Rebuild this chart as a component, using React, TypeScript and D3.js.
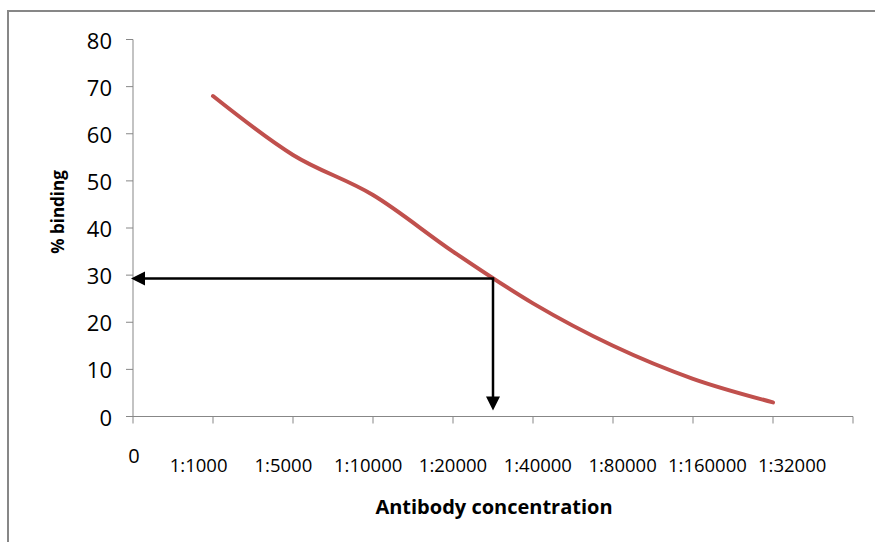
import React from "react";
import * as d3 from "d3";

const categories = ["1:1000", "1:5000", "1:10000", "1:20000", "1:40000", "1:80000", "1:160000", "1:32000"];
const binding = [68, 55.5, 47, 35, 24, 15, 8, 3];
const yTicks = [0, 10, 20, 30, 40, 50, 60, 70, 80];
const originLabel = "0";
const readoutValue = 29.3;
const readoutCategory = 4.5;
const yTitle = "% binding";
const xTitle = "Antibody concentration";

const W = 875;
const H = 542;

export default function App() {
  const x = d3.scaleLinear().domain([0, 9]).range([133, 853]);
  const y = d3.scaleLinear().domain([0, 80]).range([416.5, 39.5]);
  const labelX = d3.scalePoint<string>().domain(categories).range([x(0.82), x(8.24)]);

  const line = d3
    .line<number>()
    .x((_, i) => x(i + 1))
    .y((d) => y(d))
    .curve(d3.curveCatmullRom.alpha(0));

  const axisColor = "#878787";
  const font = "'Open Sans', 'Noto Sans', sans-serif";
  const xTicks = d3.range(0, 10);

  const rx = x(readoutCategory);
  const ry = y(readoutValue);
  const leftTip = x(0) - 2;
  const downTip = y(0) - 6;
  const ah = 14; // arrow head length
  const aw = 7; // half width

  return (
    <svg
      width={W}
      height={H}
      style={{ position: "absolute", left: 0, top: 0, display: "block" }}
    >
      <rect x={0} y={0} width={W} height={H} fill="#fff" />
      <rect x={8} y={11} width={W + 20} height={H + 20} fill="#fff" stroke={axisColor} strokeWidth={2} />

      {/* y axis */}
      <line x1={x(0)} x2={x(0)} y1={y(80)} y2={y(0)} stroke={axisColor} strokeWidth={1} />
      {yTicks.map((t) => (
        <g key={t}>
          <line x1={x(0) - 7} x2={x(0)} y1={y(t)} y2={y(t)} stroke={axisColor} strokeWidth={1} />
          <text
            x={x(0) - 21}
            y={y(t)}
            textAnchor="end"
            dominantBaseline="central"
            fontFamily={font}
            fontSize={22}
            fill="#000"
          >
            {t}
          </text>
        </g>
      ))}

      {/* x axis */}
      <line x1={x(0)} x2={x(9)} y1={y(0)} y2={y(0)} stroke={axisColor} strokeWidth={1} />
      {xTicks.map((t) => (
        <line key={t} x1={x(t)} x2={x(t)} y1={y(0)} y2={y(0) + 7} stroke={axisColor} strokeWidth={1} />
      ))}

      <text x={x(0) + 1} y={455} textAnchor="middle" dominantBaseline="central" fontFamily={font} fontSize={20} fill="#000">
        {originLabel}
      </text>
      {categories.map((c) => (
        <text
          key={c}
          x={labelX(c)}
          y={464}
          textAnchor="middle"
          dominantBaseline="central"
          fontFamily={font}
          fontSize={18.5}
          fill="#000"
        >
          {c}
        </text>
      ))}

      {/* curve */}
      <path d={line(binding) || ""} fill="none" stroke="#C0504D" strokeWidth={4} strokeLinecap="round" />

      {/* readout arrows */}
      <line x1={rx + 1.2} x2={leftTip + ah - 1} y1={ry} y2={ry} stroke="#000" strokeWidth={2.5} />
      <polygon points={`${leftTip},${ry} ${leftTip + ah},${ry - aw} ${leftTip + ah},${ry + aw}`} fill="#000" />
      <line x1={rx} x2={rx} y1={ry} y2={downTip - ah + 1} stroke="#000" strokeWidth={2.5} />
      <polygon points={`${rx},${downTip} ${rx - aw},${downTip - ah} ${rx + aw},${downTip - ah}`} fill="#000" />

      {/* titles */}
      <text
        x={494}
        y={506}
        textAnchor="middle"
        dominantBaseline="central"
        fontFamily={font}
        fontWeight="bold"
        fontSize={20}
        fill="#000"
      >
        {xTitle}
      </text>
      <text
        transform={`translate(57, ${212}) rotate(-90)`}
        textAnchor="middle"
        dominantBaseline="central"
        fontFamily={font}
        fontWeight="bold"
        fontSize={17}
        fill="#000"
      >
        {yTitle}
      </text>
    </svg>
  );
}
